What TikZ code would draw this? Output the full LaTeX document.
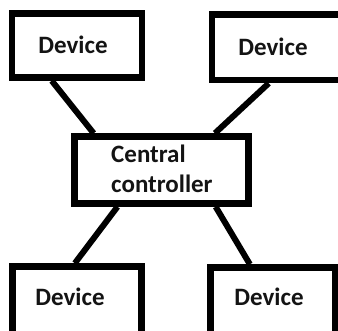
\documentclass[tikz,border=0pt]{standalone}
\usepackage{fontspec}
\setmainfont{Carlito}
\usetikzlibrary{calc}
\tikzset{
  box/.style={draw=black, line width=6.5pt, rectangle, inner sep=0pt, fill=none},
  link/.style={draw=black, line width=6pt},
  lbl/.style={inner sep=0pt, font=\fontsize{25}{30}\selectfont\bfseries, text=black!92},
}
\begin{document}
\begin{tikzpicture}[x=1pt, y=-1pt]
\useasboundingbox (0,0) rectangle (338,330);
\fill[white] (0,0) rectangle (338,330);
\begin{scope}
\clip (0,0) rectangle (338,330);
\node[box, minimum width=130pt, minimum height=64pt] (tl) at (77,45.5) {};
\node[box, minimum width=133pt, minimum height=65.5pt] (tr) at (278.5,47.25) {};
\node[box, minimum width=174pt, minimum height=67pt] (c) at (161.5,170) {};
\node[box, minimum width=129pt, minimum height=73.5pt] (bl) at (77,303.25) {};
\node[box, minimum width=125pt, minimum height=72.5pt] (br) at (273,303.75) {};

\draw[link] ($(tl.south west)!0.315!(tl.south east)$) -- ($(c.north west)!0.124!(c.north east)$);
\draw[link] ($(tr.south west)!0.43!(tr.south east)$) -- ($(c.north west)!0.796!(c.north east)$);
\draw[link] ($(c.south west)!0.256!(c.south east)$) -- ($(bl.north west)!0.484!(bl.north east)$);
\draw[link] ($(c.south west)!0.80!(c.south east)$) -- ($(br.north west)!0.324!(br.north east)$);

\node[lbl, anchor=base] (tlt) at (73,53) {Device};
\node[lbl, anchor=base] (trt) at (273,55) {Device};
\node[lbl, anchor=base] (blt) at (70,305) {Device};
\node[lbl, anchor=base] (brt) at (269,305) {Device};
\node[lbl, anchor=base west, align=left] (ct) at (111,192) {Central\\controller};
\end{scope}
\end{tikzpicture}
\end{document}
